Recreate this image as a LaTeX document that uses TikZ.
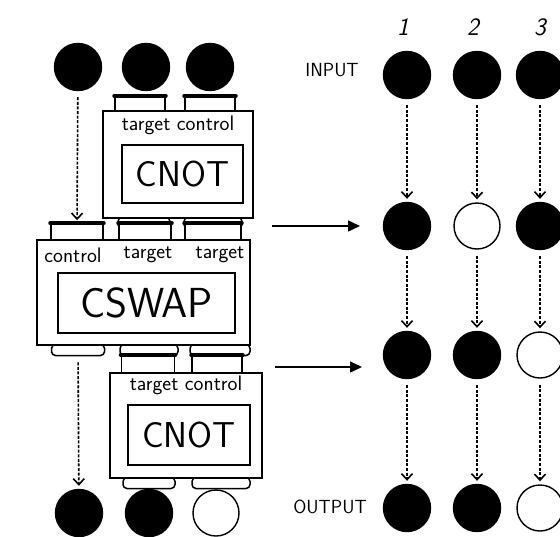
\documentclass[tikz,border=0pt]{standalone}
\usetikzlibrary{arrows.meta}

\begin{document}
\begin{tikzpicture}[x=1pt,y=-1pt]
  \tikzstyle{bit1}=[circle,fill=black,draw=black,line width=1.4pt,minimum size=47pt,inner sep=0pt]
  \tikzstyle{bit0}=[circle,fill=white,draw=black,line width=1.4pt,minimum size=46pt,inner sep=0pt]
  \tikzstyle{gate}=[draw=black,line width=1.6pt,fill=white,inner sep=0pt]
  \tikzstyle{core}=[draw=black,line width=1.6pt,fill=white,inner sep=0pt,font=\sffamily]
  \tikzstyle{pin}=[draw=black,line width=1.5pt,fill=white,minimum width=50pt,minimum height=15pt,inner sep=0pt]
  \tikzstyle{foot}=[draw=black,line width=1.5pt,fill=white,rounded corners=4pt,minimum width=52pt,minimum height=11pt,inner sep=0pt]
  \tikzstyle{pinbar}=[line width=4pt,line cap=round]
  \tikzstyle{lbl}=[font=\fontsize{21}{21}\selectfont\sffamily,inner sep=0pt]
  \tikzstyle{tag}=[font=\fontsize{19}{19}\selectfont\sffamily,inner sep=0pt]
  \tikzstyle{f}=[-{Straight Barb[length=6pt,width=11pt]},line width=1.6pt,dash pattern=on 3pt off 1.6pt,shorten <=6pt,shorten >=3pt]
  \tikzstyle{g}=[-{Triangle[length=12pt,width=11pt]},line width=1.5pt]

  \useasboundingbox (0,0) rectangle (560,536);

  % left: circuit of gates
  \node[bit1] (in1) at (78,67) {};
  \node[bit1] (in2) at (146,67) {};
  \node[bit1] (in3) at (210,67) {};

  \node[pin] (pa1) at (140,104) {};
  \node[pin] (pa2) at (210,104) {};
  \node[foot] (fa1) at (144,223) {};
  \node[foot,minimum width=58pt] (fa2) at (213,223) {};
  \node[gate,minimum width=150pt,minimum height=107pt] (cnotA) at (178,164.5) {};
  \node[lbl] (cnotAl) at (178,125) {target control};
  \node[core,minimum width=121pt,minimum height=58pt,font=\fontsize{36}{36}\selectfont\sffamily] (cnotAc) at (182.5,174) {CNOT};

  \node[pin,minimum width=52pt,minimum height=16pt] (s1) at (77,232) {};
  \node[pin,minimum width=52pt,minimum height=16pt] (s2) at (145,232) {};
  \node[pin,minimum width=56pt,minimum height=16pt] (s3) at (213,232) {};
  \node[foot,minimum width=53pt] (fs1) at (78,350) {};
  \node[foot,minimum width=58pt] (fs2) at (149,350) {};
  \node[foot,minimum width=60pt] (fs3) at (220,350) {};
  \node[gate,minimum width=213pt,minimum height=105pt] (cswap) at (143.5,292.5) {};
  \node[lbl] (cswapl1) at (73,255) {control};
  \node[lbl] (cswapl2) at (148,255) {target};
  \node[lbl] (cswapl3) at (220,255) {target};
  \node[core,minimum width=177pt,minimum height=60pt,font=\fontsize{42}{42}\selectfont\sffamily] (cswapc) at (146.5,303) {CSWAP};

  \node[pin,minimum width=53pt,minimum height=17pt] (pb1) at (148,364) {};
  \node[pin,minimum height=17pt] (pb2) at (217,364) {};
  \node[foot] (fb1) at (149,483) {};
  \node[foot,minimum width=58pt] (fb2) at (221,483) {};
  \node[gate,minimum width=152pt,minimum height=105pt] (cnotB) at (186,425.5) {};
  \node[lbl] (cnotBl) at (186,385) {target control};
  \node[core,minimum width=122pt,minimum height=60pt,font=\fontsize{36}{36}\selectfont\sffamily] (cnotBc) at (189,435) {CNOT};

  \foreach \p in {pa1,pa2,s1,s2,s3,pb1,pb2}
    \draw[pinbar] (\p.north west) -- (\p.north east);

  \node[bit1] (out1) at (79,513) {};
  \node[bit1] (out2) at (149,513) {};
  \node[bit0] (out3) at (216,513) {};

  \draw[f] (in1) -- (s1.north);
  \draw[f] (fs1) -- (out1);

  % right: states after each step
  \node[tag,font=\fontsize{25}{25}\selectfont\sffamily\itshape] (c1) at (403,27) {1};
  \node[tag,font=\fontsize{25}{25}\selectfont\sffamily\itshape] (c2) at (473,27) {2};
  \node[tag,font=\fontsize{25}{25}\selectfont\sffamily\itshape] (c3) at (540,27) {3};
  \node[tag] (inp) at (332,70) {INPUT};
  \node[tag] (outp) at (330,507) {OUTPUT};

  \node[bit1] (r11) at (407,75) {};
  \node[bit1] (r12) at (477,75) {};
  \node[bit1] (r13) at (540,75) {};
  \node[bit1] (r21) at (407,226) {};
  \node[bit0] (r22) at (477,226) {};
  \node[bit1] (r23) at (540,226) {};
  \node[bit1] (r31) at (407,355) {};
  \node[bit1] (r32) at (477,355) {};
  \node[bit0] (r33) at (540,355) {};
  \node[bit1] (r41) at (407,508) {};
  \node[bit1] (r42) at (477,508) {};
  \node[bit0] (r43) at (540,508) {};

  \foreach \c in {1,2,3}{
    \draw[f] (r1\c) -- (r2\c);
    \draw[f] (r2\c) -- (r3\c);
    \draw[f] (r3\c) -- (r4\c);
  }

  \coordinate (h1a) at (272,226);
  \coordinate (h1b) at (360,226);
  \coordinate (h2a) at (275,367);
  \coordinate (h2b) at (362,367);
  \draw[g] (h1a) -- (h1b);
  \draw[g] (h2a) -- (h2b);
\end{tikzpicture}
\end{document}
